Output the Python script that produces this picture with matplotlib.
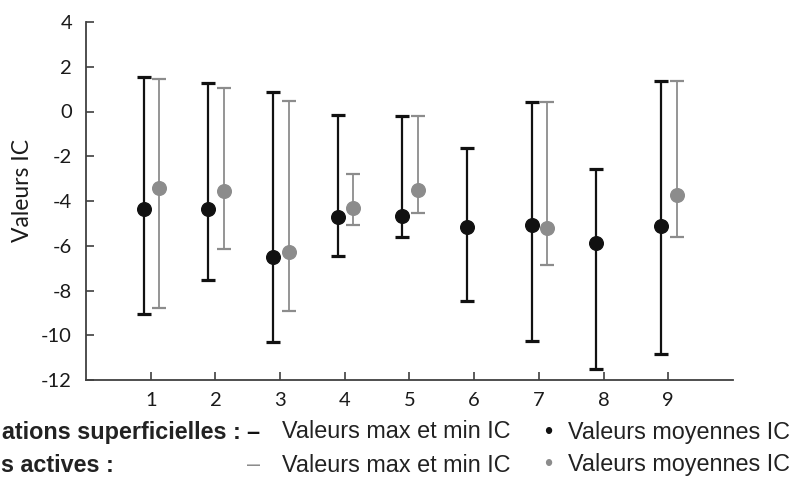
import matplotlib.pyplot as plt
import numpy as np

# categories on the x axis
cats = [1, 2, 3, 4, 5, 6, 7, 8, 9]

# black series (formations superficielles): mean, max, min of IC
black_mean = [-4.35, -4.35, -6.5, -4.72, -4.67, -5.16, -5.07, -5.87, -5.11]
black_max = [1.54, 1.27, 0.87, -0.16, -0.2, -1.63, 0.42, -2.57, 1.36]
black_min = [-9.04, -7.52, -10.3, -6.45, -5.6, -8.46, -10.25, -11.5, -10.83]

# gray series, no values for 6 and 8
gray_mean = [-3.42, -3.54, -6.27, -4.31, -3.5, np.nan, -5.2, np.nan, -3.73]
gray_max = [1.45, 1.05, 0.47, -2.79, -0.2, np.nan, 0.42, np.nan, 1.36]
gray_min = [-8.8, -6.14, -8.9, -5.07, -4.53, np.nan, -6.85, np.nan, -5.6]

yticks = [4, 2, 0, -2, -4, -6, -8, -10, -12]

BLACK = "#111111"
GRAY = "#8c8c8c"
AXC = "#404040"
TXT = "#222222"

fig = plt.figure(figsize=(7.94, 4.82), dpi=100)
ax = fig.add_axes([86 / 794, 1 - 380 / 482, (733 - 86) / 794, (380 - 22) / 482])

x = np.array(cats, dtype=float)


def draw(xpos, mean, vmax, vmin, color, lw, ct):
    mean = np.array(mean)
    err = [mean - np.array(vmin), np.array(vmax) - mean]
    ax.errorbar(xpos, mean, yerr=err, fmt="o", color=color, ecolor=color,
                elinewidth=lw, capsize=5.2, capthick=ct, markersize=9.8,
                markeredgecolor=color, zorder=3)


draw(x - 0.11, black_mean, black_max, black_min, BLACK, 1.6, 2.3)
draw(x + 0.13, gray_mean, gray_max, gray_min, GRAY, 1.3, 1.6)

ax.set_xlim(0, 10)
ax.set_ylim(-12, 4)
ax.set_xticks(cats)
ax.set_yticks(yticks)
ax.set_yticklabels([str(v) for v in yticks])

for s in ["top", "right"]:
    ax.spines[s].set_visible(False)
for s in ["left", "bottom"]:
    ax.spines[s].set_color(AXC)
    ax.spines[s].set_linewidth(1.3)

ax.tick_params(axis="both", direction="in", length=6, width=1.2, color=AXC,
               labelsize=14.5, labelcolor="#1a1a1a")
ax.tick_params(axis="y", pad=10)
ax.tick_params(axis="x", pad=9)
for lab in ax.get_xticklabels() + ax.get_yticklabels():
    lab.set_family("Lato")

ax.set_ylabel("Valeurs IC", family="Lato", fontsize=16.5, color="#1a1a1a")
ax.yaxis.set_label_coords(-53 / 647, 0.53)

# legend written as text lines at the bottom (left part cut in the source)
W, H = 794, 482
r1 = 1 - 432 / H
r2 = 1 - 465 / H
kw = dict(family="Liberation Sans", fontsize=16.8, va="center")
fig.text(241 / W, r1, "ations superficielles :", ha="right",
         weight="bold", color=TXT, **kw)
fig.text(246 / W, r1, "–", ha="left", weight="bold", color=BLACK, **kw)
fig.text(282 / W, r1, "Valeurs max et min IC", ha="left", color=TXT, **kw)
fig.text(548 / W, r1, "•", ha="center", color=BLACK, **kw)
fig.text(568 / W, r1, "Valeurs moyennes IC", ha="left", color=TXT, **kw)

fig.text(1 / W, r2, "s actives :", ha="left",
         weight="bold", color=TXT, **kw)
fig.text(247 / W, r2, "–", ha="left", color=GRAY, **kw)
fig.text(282 / W, r2, "Valeurs max et min IC", ha="left", color=TXT, **kw)
fig.text(548 / W, r2, "•", ha="center", color=GRAY, **kw)
fig.text(568 / W, r2, "Valeurs moyennes IC", ha="left", color=TXT, **kw)

fig.savefig("out.png", dpi=100)
